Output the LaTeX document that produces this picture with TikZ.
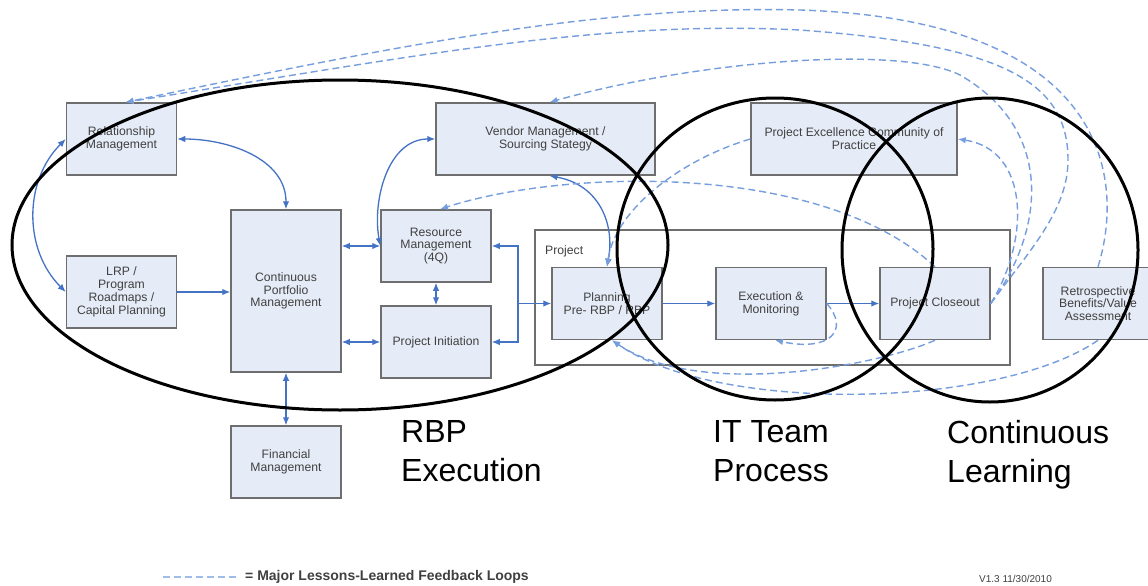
\documentclass[tikz,border=0pt]{standalone}
\usepackage{fontspec}
\setmainfont{Liberation Sans}
\usepackage{xcolor}
\usepackage{tikz}
\usetikzlibrary{arrows.meta}
\usetikzlibrary{calc}
\definecolor{linkblue}{RGB}{68,114,196}
\definecolor{loopblue}{RGB}{118,158,222}
\definecolor{boxfill}{RGB}{230,236,247}
\definecolor{boxline}{RGB}{110,110,110}
\definecolor{boxtext}{RGB}{64,64,64}
\tikzstyle{blk}=[draw=boxline,fill=boxfill,line width=1.5pt,minimum width=110pt,minimum height=72pt,align=center,text=boxtext,font=\fontsize{12.2}{12.8}\selectfont,inner sep=2pt]
\tikzstyle{frame}=[draw=boxline,line width=1.5pt,minimum width=475pt,minimum height=135pt,inner sep=0pt]
\tikzstyle{link}=[draw=linkblue,line width=1.3pt,>={Latex[length=8pt,width=6.5pt]}]
\tikzstyle{lesson}=[draw=loopblue,line width=1.4pt,dash pattern=on 7pt off 4pt,->,>={Latex[length=8pt,width=6.5pt]}]
\tikzstyle{zone}=[draw=black,line width=3pt]
\tikzstyle{biglbl}=[anchor=north west,inner sep=0pt,align=left,font=\fontsize{32}{39}\selectfont]

\begin{document}
\begin{tikzpicture}[x=1pt,y=-1pt]
	\useasboundingbox[fill=white] (0,0) rectangle (1148,586);
	% blocks
	\node[blk] (RM)  at (121.5,139) {Relationship\\Management};
	\node[blk] (LRP) at (121.5,292) {LRP /\\Program\\Roadmaps /\\Capital Planning};
	\node[blk,minimum height=162pt] (CPM) at (286,291) {Continuous\\Portfolio\\Management};
	\node[blk] (ResM) at (436,246) {Resource\\Management\\(4Q)};
	\node[blk] (PI)   at (436,342) {Project Initiation};
	\node[blk,minimum width=219pt] (VM) at (545.5,139) {Vendor Management /\\Sourcing Stategy};
	\node[blk,minimum width=206pt] (PE) at (854,139) {Project Excellence Community of\\Practice};
	\node[blk] (FM)  at (286,462) {Financial\\Management};
	\node[frame] (Proj) at (772.5,297.5) {};
	\node[anchor=west,inner sep=0pt,text=boxtext,font=\fontsize{12.2}{12.8}\selectfont] (ProjL) at (545,251) {Project};
	\node[blk] (Pl)  at (607,303.5) {Planning\\Pre- RBP / RBP};
	\node[blk] (EM)  at (771,303.5) {Execution \&\\Monitoring};
	\node[blk] (PC)  at (935,303.5) {Project Closeout};
	\node[blk] (Ret) at (1098,303.5) {Retrospective\\Benefits/Value\\Assessment};
	% solid links
	\draw[link,<->] (RM.west) to[out=225,in=135] (LRP.west);
	\draw[link,<->] (RM.east) to[out=0,in=90] (CPM.north);
	\draw[link,->]  (LRP.east) -- (LRP.east -| CPM.west);
	\draw[link,<->] (ResM.west -| CPM.east) -- (ResM.west);
	\draw[link,<->] (PI.west -| CPM.east) -- (PI.west);
	\draw[link,<->] (ResM) -- (PI);
	\draw[link,<->] (CPM) -- (FM);
	\draw[link,<->] (ResM.west) to[out=100,in=180] (VM.west);
	\draw[link,<->] ([xshift=4pt]VM.south) .. controls (600,185) and (615,225) .. (Pl.north);
	\coordinate (br) at (518,303.5);
	\draw[link,<->] (ResM.east) -| (br) |- (PI.east);
	\draw[link,->]  (br) -- (Pl.west);
	\draw[link,->]  (Pl) -- (EM);
	\draw[link,->]  (EM) -- (PC);
	% lessons-learned loops
	\draw[lesson] (Ret.north) .. controls (1125,180) and (1110,20) .. (800,10)
		.. controls (600,5) and (400,45) .. ([xshift=4pt]RM.north);
	\draw[lesson] (PC.east) .. controls (1030,250) and (1068,210) .. (1068,160)
		.. controls (1068,80) and (1000,45) .. (800,30)
		.. controls (600,20) and (420,55) .. ([xshift=4pt]RM.north);
	\draw[lesson] (PC.east) .. controls (1045,230) and (1055,130) .. (960,75)
		.. controls (900,45) and (700,60) .. ([xshift=4pt]VM.north);
	\draw[lesson] (PC.east) .. controls (1030,240) and (1030,150) .. (PE.east);
	\draw[lesson] (PE.west) .. controls (680,160) and (615,210) .. (Pl.north);
	\draw[lesson] (PC.north) .. controls (820,160) and (560,170) .. ([xshift=4pt]ResM.north);
	\draw[lesson] (EM.east) .. controls (850,330) and (830,352) .. ([xshift=4pt]EM.south);
	\draw[lesson] (PC.south) .. controls (880,365) and (700,400) .. ([xshift=5pt]Pl.south);
	\draw[lesson] (Ret.south) .. controls (1000,408) and (720,415) .. ([xshift=5pt]Pl.south);
	% groupings
	\draw[zone] (340,245) ellipse [x radius=328pt,y radius=165pt];
	\draw[zone] (775,249) ellipse [x radius=158pt,y radius=151pt];
	\draw[zone] (990,250) ellipse [x radius=148pt,y radius=152pt];
	\node[biglbl] (RBP) at (401,420) {RBP\\Execution};
	\node[biglbl] (ITP) at (713,420) {IT Team\\Process};
	\node[biglbl] (CL)  at (947,420) {Continuous\\Learning};
	% legend
	\coordinate (lgA) at (163,577);
	\coordinate (lgB) at (238,577);
	\draw[lesson,-,draw=loopblue!70] (lgA) -- (lgB);
	\node[anchor=west,inner sep=0pt,text=black!75,font=\bfseries\fontsize{14}{16}\selectfont] (lgT) at (245,577) {= Major Lessons-Learned Feedback Loops};
	\node[anchor=north west,inner sep=0pt,text=black!75,font=\fontsize{10}{12}\selectfont] (ver) at (979,575) {V1.3 11/30/2010};
\end{tikzpicture}
\end{document}
